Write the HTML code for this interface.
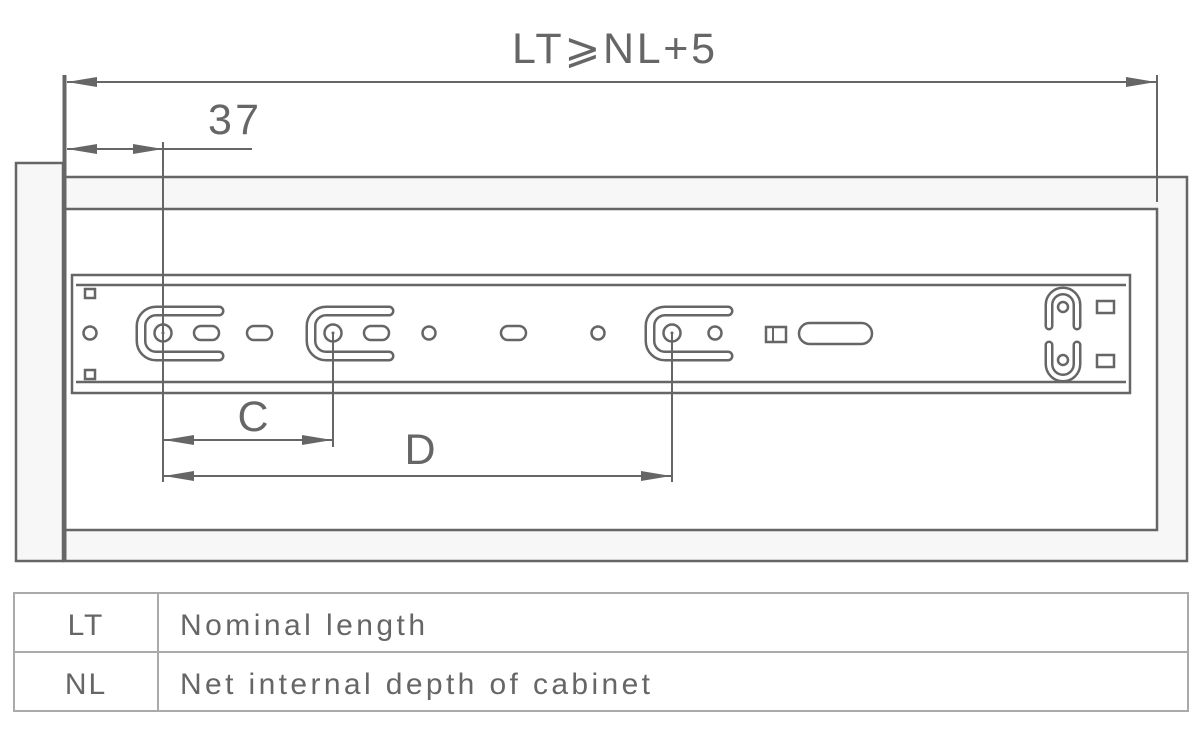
<!DOCTYPE html>
<html><head><meta charset="utf-8"><style>
html,body{margin:0;padding:0;background:#fff;}
svg{display:block;}
text{font-family:"Liberation Sans",sans-serif;fill:#666;}
</style></head><body>
<svg width="1200" height="735" viewBox="0 0 1200 735" xmlns="http://www.w3.org/2000/svg">
<defs>
<marker id="ar" viewBox="0 0 30 10" refX="30" refY="5" markerWidth="30" markerHeight="10" markerUnits="userSpaceOnUse" orient="auto-start-reverse">
<path d="M0,0 L30,5 L0,10 Z" fill="#666"/>
</marker>
</defs>
<g stroke="#666" fill="none">
<!-- cabinet -->
<rect x="16" y="163" width="47" height="398" fill="#f7f7f7" stroke-width="2.5"/>
<rect x="64" y="177" width="1123" height="384" fill="#f7f7f7" stroke-width="2.5"/>
<rect x="64" y="209" width="1093" height="321" fill="#fff" stroke-width="2.5"/>
<line x1="64.5" y1="75" x2="64.5" y2="561" stroke-width="4"/>
<line x1="1157" y1="75" x2="1157" y2="202" stroke-width="2"/>
<!-- rail -->
<rect x="72" y="275" width="1058" height="118" fill="#fff" stroke-width="2.5"/>
<path d="M76,285 H1126 M76,382 H1126" stroke-width="2.5"/>
<rect x="85" y="289" width="10" height="9" stroke-width="2.5"/>
<rect x="85" y="370" width="10" height="9" stroke-width="2.5"/>
<circle cx="90" cy="333" r="6.5" stroke-width="2.5"/>
<g id="br">
<path d="M219,311 H156 A15,15 0 0 0 141,326 V341 A15,15 0 0 0 156,356 H219" stroke-width="11" stroke-linecap="round"/>
<path d="M219,311 H156 A15,15 0 0 0 141,326 V341 A15,15 0 0 0 156,356 H219" stroke="#fff" stroke-width="6" stroke-linecap="round"/>
<circle cx="163" cy="333" r="8.5" stroke-width="2.5" fill="#fff"/>
<circle cx="163" cy="333" r="1" fill="#666"/>
</g>
<use href="#br" x="170"/>
<use href="#br" x="509"/>
<rect x="194" y="326" width="25" height="14" rx="7" stroke-width="2.5"/>
<rect x="247" y="326" width="25" height="14" rx="7" stroke-width="2.5"/>
<rect x="364" y="326" width="25" height="14" rx="7" stroke-width="2.5"/>
<circle cx="429" cy="333" r="6.5" stroke-width="2.5"/>
<rect x="501" y="326" width="25" height="14" rx="7" stroke-width="2.5"/>
<circle cx="598" cy="333" r="6.5" stroke-width="2.5"/>
<circle cx="715" cy="333" r="6.5" stroke-width="2.5"/>
<rect x="766" y="327" width="20" height="15" stroke-width="2.5"/>
<line x1="773" y1="327" x2="773" y2="342" stroke-width="2"/>
<rect x="799" y="323" width="73" height="21" rx="10.5" stroke-width="2.5"/>
<path d="M1049,326 V305 A14,14 0 0 1 1077,305 V326" stroke-width="9" stroke-linecap="round"/>
<path d="M1049,326 V305 A14,14 0 0 1 1077,305 V326" stroke="#fff" stroke-width="4" stroke-linecap="round"/>
<path d="M1049,345 V364 A14,14 0 0 0 1077,364 V345" stroke-width="9" stroke-linecap="round"/>
<path d="M1049,345 V364 A14,14 0 0 0 1077,364 V345" stroke="#fff" stroke-width="4" stroke-linecap="round"/>
<circle cx="1063" cy="307" r="5" stroke-width="2.5"/>
<circle cx="1063" cy="360" r="5" stroke-width="2.5"/>
<rect x="1097" y="301" width="17" height="12" stroke-width="2.5"/>
<rect x="1097" y="355" width="17" height="12" stroke-width="2.5"/>
<!-- dims -->
<line x1="67" y1="82" x2="1156" y2="82" stroke-width="2" marker-start="url(#ar)" marker-end="url(#ar)"/>
<line x1="67" y1="149" x2="163" y2="149" stroke-width="2" marker-start="url(#ar)" marker-end="url(#ar)"/>
<line x1="163" y1="149" x2="252" y2="149" stroke-width="2"/>
<line x1="163" y1="142" x2="163" y2="482" stroke-width="2"/>
<line x1="333" y1="333" x2="333" y2="447" stroke-width="2"/>
<line x1="672" y1="333" x2="672" y2="482" stroke-width="2"/>
<line x1="164" y1="440" x2="332" y2="440" stroke-width="2" marker-start="url(#ar)" marker-end="url(#ar)"/>
<line x1="164" y1="476" x2="671" y2="476" stroke-width="2" marker-start="url(#ar)" marker-end="url(#ar)"/>
<!-- table -->
<rect x="14" y="593" width="1174" height="118" stroke="#aaa" stroke-width="2"/>
<line x1="14" y1="652" x2="1188" y2="652" stroke="#aaa" stroke-width="2"/>
<line x1="158" y1="593" x2="158" y2="711" stroke="#aaa" stroke-width="2"/>
</g>
<text x="512" y="63" font-size="43" textLength="203" lengthAdjust="spacing">LT⩾NL+5</text>
<text x="208" y="134" font-size="43" textLength="51" lengthAdjust="spacing">37</text>
<text x="253" y="431" font-size="43" text-anchor="middle">C</text>
<text x="420" y="464" font-size="43" text-anchor="middle">D</text>
<text x="86" y="635" font-size="30" text-anchor="middle" letter-spacing="2">LT</text>
<text x="86" y="694" font-size="30" text-anchor="middle" letter-spacing="2">NL</text>
<text x="180" y="635" font-size="30" textLength="245" lengthAdjust="spacing">Nominal length</text>
<text x="180" y="694" font-size="30" textLength="470" lengthAdjust="spacing">Net internal depth of cabinet</text>
</svg>
</body></html>
